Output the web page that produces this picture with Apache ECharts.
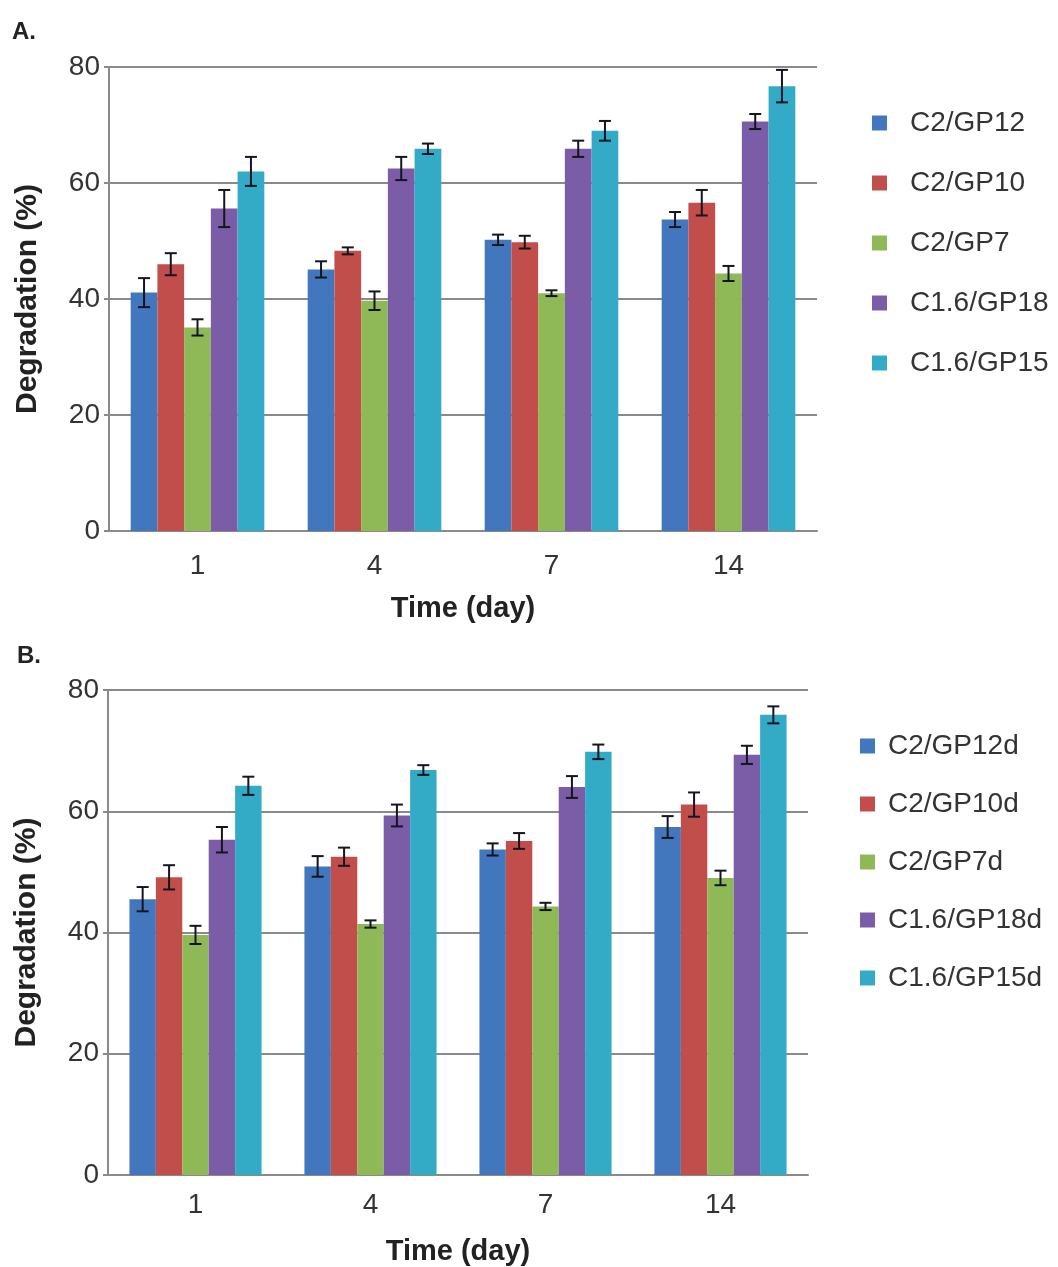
<!DOCTYPE html>
<html>
<head>
<meta charset="utf-8">
<script src="https://cdn.jsdelivr.net/npm/echarts@6/dist/echarts.min.js"></script>
<style>
  html, body { margin: 0; padding: 0; background: #fff; }
  #chart { width: 1058px; height: 1267px; }
</style>
</head>
<body>
<div id="chart"></div>
<script>
// days on the x axis
const days = ['1', '4', '7', '14'];
const yTicks = [0, 20, 40, 60, 80];

// panel A
const namesA = ['C2/GP12', 'C2/GP10', 'C2/GP7', 'C1.6/GP18', 'C1.6/GP15'];
const gp12 = [41.1, 45.1, 50.2, 53.7];
const gp12Err = [2.5, 1.4, 0.9, 1.3];
const gp10 = [46.0, 48.3, 49.8, 56.6];
const gp10Err = [1.9, 0.6, 1.1, 2.2];
const gp7 = [35.1, 39.7, 41.0, 44.4];
const gp7Err = [1.4, 1.6, 0.5, 1.3];
const gp18 = [55.6, 62.5, 65.9, 70.6];
const gp18Err = [3.2, 2.0, 1.4, 1.3];
const gp15 = [62.0, 65.9, 69.0, 76.7];
const gp15Err = [2.5, 0.9, 1.7, 2.8];

// panel B
const namesB = ['C2/GP12d', 'C2/GP10d', 'C2/GP7d', 'C1.6/GP18d', 'C1.6/GP15d'];
const gp12d = [45.5, 50.9, 53.7, 57.4];
const gp12dErr = [2.0, 1.7, 1.0, 1.8];
const gp10d = [49.1, 52.5, 55.1, 61.1];
const gp10dErr = [2.0, 1.5, 1.3, 2.0];
const gp7d = [39.6, 41.4, 44.3, 49.0];
const gp7dErr = [1.5, 0.6, 0.6, 1.2];
const gp18d = [55.3, 59.3, 64.0, 69.3];
const gp18dErr = [2.1, 1.8, 1.8, 1.5];
const gp15d = [64.2, 66.8, 69.8, 75.9];
const gp15dErr = [1.5, 0.8, 1.2, 1.4];

const colors = ['#4277BD', '#C24E4B', '#8FB956', '#7A5DA6', '#33AAC6'];
const catGap = 0.245;
const font = 'Liberation Sans, Arial, Helvetica, sans-serif';

const valsA = [gp12, gp10, gp7, gp18, gp15];
const errsA = [gp12Err, gp10Err, gp7Err, gp18Err, gp15Err];
const valsB = [gp12d, gp10d, gp7d, gp18d, gp15d];
const errsB = [gp12dErr, gp10dErr, gp7dErr, gp18dErr, gp15dErr];

const myChart = echarts.init(document.getElementById('chart'));

// [category index, value, error, series index]
function errorData(vals, errs) {
  const out = [];
  vals.forEach((arr, s) => {
    arr.forEach((v, i) => out.push([i, v, errs[s][i], s]));
  });
  return out;
}

function renderError(params, api) {
  const center = api.coord([api.value(0), api.value(1)]);
  const band = api.size([1, 0])[0];
  const barW = band * (1 - catGap) / 5;
  const x = center[0] + (api.value(3) - 2) * barW;
  const hi = api.coord([api.value(0), api.value(1) + api.value(2)])[1];
  const lo = api.coord([api.value(0), api.value(1) - api.value(2)])[1];
  const half = 6;
  const style = { stroke: '#15151f', lineWidth: 2 };
  return {
    type: 'group',
    children: [
      { type: 'line', shape: { x1: x, y1: hi, x2: x, y2: lo }, style: style },
      { type: 'line', shape: { x1: x - half, y1: hi, x2: x + half, y2: hi }, style: style },
      { type: 'line', shape: { x1: x - half, y1: lo, x2: x + half, y2: lo }, style: style }
    ]
  };
}

function xAxisFor(idx, labelMargin, nameGap) {
  return {
    type: 'category',
    gridIndex: idx,
    data: days,
    name: 'Time (day)',
    nameLocation: 'middle',
    nameGap: nameGap,
    nameTextStyle: { fontFamily: font, fontWeight: 'bold', fontSize: 29, color: '#222' },
    axisLine: { lineStyle: { color: '#8a8a8a', width: 2 } },
    axisTick: { show: false },
    axisLabel: { fontFamily: font, fontSize: 28, color: '#333', margin: labelMargin }
  };
}

function yAxisFor(idx) {
  return {
    type: 'value',
    gridIndex: idx,
    min: yTicks[0],
    max: yTicks[yTicks.length - 1],
    interval: 20,
    name: 'Degradation (%)',
    nameLocation: 'middle',
    nameRotate: 90,
    nameGap: 66,
    nameTextStyle: { fontFamily: font, fontWeight: 'bold', fontSize: 30, color: '#222' },
    axisLine: { show: true, lineStyle: { color: '#8a8a8a', width: 2 } },
    axisTick: { show: true, length: 5, lineStyle: { color: '#8a8a8a', width: 2 } },
    axisLabel: { fontFamily: font, fontSize: 28, color: '#333', margin: 9 },
    splitLine: { lineStyle: { color: '#8a8a8a', width: 2 } }
  };
}

function barSeries(names, vals, idx) {
  return names.map((n, s) => ({
    name: n,
    type: 'bar',
    xAxisIndex: idx,
    yAxisIndex: idx,
    data: vals[s],
    barGap: '0%',
    barCategoryGap: (catGap * 100) + '%',
    itemStyle: { color: colors[s] },
    emphasis: { disabled: true }
  }));
}

function legendFor(names, left, top, gap, textPad) {
  return {
    data: names,
    orient: 'vertical',
    left: left,
    top: top,
    itemWidth: 15,
    itemHeight: 15,
    itemGap: gap,
    icon: 'rect',
    textStyle: { fontFamily: font, fontSize: 28, color: '#333', lineHeight: 28, padding: [0, 0, 0, textPad] }
  };
}

const option = {
  animation: false,
  color: colors,
  grid: [
    { left: 109, top: 67, right: 241, bottom: 736 },
    { left: 108, top: 690, right: 250, bottom: 91 }
  ],
  legend: [
    legendFor(namesA, 867, 104, 32, 18),
    legendFor(namesB, 855, 727, 30, 8)
  ],
  xAxis: [xAxisFor(0, 21, 63), xAxisFor(1, 16, 62)],
  yAxis: [yAxisFor(0), yAxisFor(1)],
  graphic: [
    { type: 'text', left: 12, top: 20, style: { text: 'A.', font: 'bold 24px ' + font, fill: '#222' } },
    { type: 'text', left: 17, top: 644, style: { text: 'B.', font: 'bold 24px ' + font, fill: '#222' } }
  ],
  series: [
    ...barSeries(namesA, valsA, 0),
    ...barSeries(namesB, valsB, 1),
    {
      type: 'custom',
      name: 'errA',
      xAxisIndex: 0,
      yAxisIndex: 0,
      renderItem: renderError,
      data: errorData(valsA, errsA),
      z: 10
    },
    {
      type: 'custom',
      name: 'errB',
      xAxisIndex: 1,
      yAxisIndex: 1,
      renderItem: renderError,
      data: errorData(valsB, errsB),
      z: 10
    }
  ]
};

myChart.setOption(option);
</script>
</body>
</html>
